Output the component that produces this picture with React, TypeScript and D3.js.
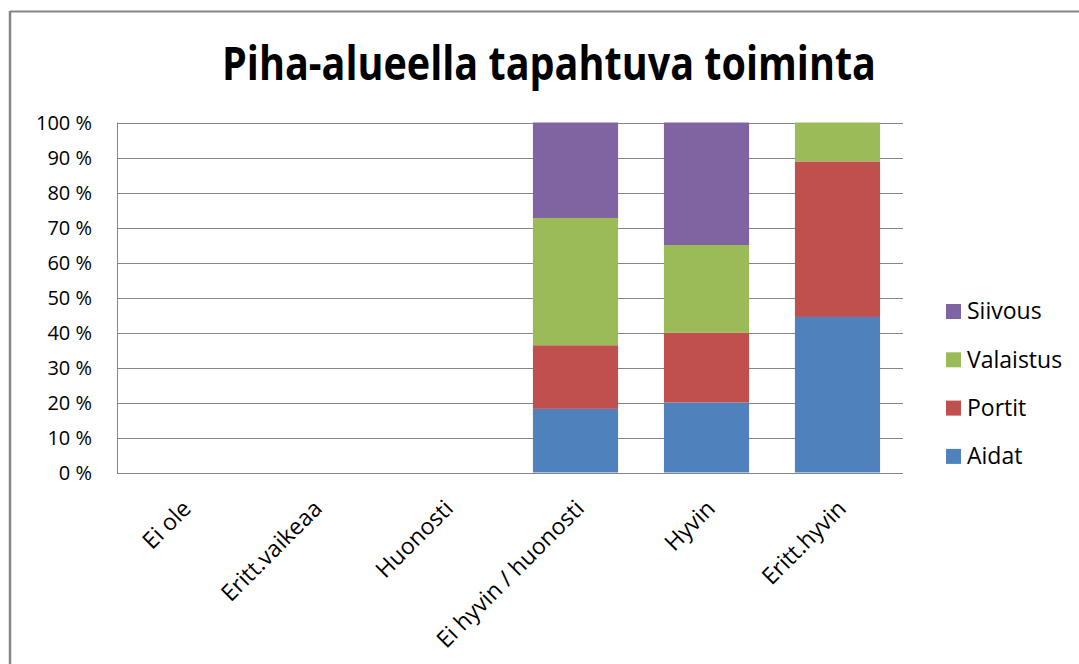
import React from "react";
import * as d3 from "d3";

const categories = ["Ei ole", "Eritt.vaikeaa", "Huonosti", "Ei hyvin / huonosti", "Hyvin", "Eritt.hyvin"];
const seriesNames = ["Aidat", "Portit", "Valaistus", "Siivous"];
const aidat = [0, 0, 0, 18.18, 20, 44.44];
const portit = [0, 0, 0, 18.18, 20, 44.44];
const valaistus = [0, 0, 0, 36.36, 25, 11.12];
const siivous = [0, 0, 0, 27.28, 35, 0];
const seriesColors = ["#4F81BD", "#C0504D", "#9BBB59", "#8064A2"];
const yTicks = [0, 10, 20, 30, 40, 50, 60, 70, 80, 90, 100];

const W = 1079;
const H = 664;
const plot = { left: 117, right: 903, top: 122.5, bottom: 472.5 };
const FONT = "'Open Sans', 'Noto Sans', sans-serif";

export default function App() {
  const x = d3
    .scaleBand<string>()
    .domain(categories)
    .range([plot.left, plot.right])
    .paddingInner(0.35)
    .paddingOuter(0.175);
  const y = d3.scaleLinear().domain([0, 100]).range([plot.bottom, plot.top]);

  const table = categories.map((c, i) => ({
    cat: c,
    Aidat: aidat[i],
    Portit: portit[i],
    Valaistus: valaistus[i],
    Siivous: siivous[i],
  }));
  const stacked = d3.stack<any>().keys(seriesNames)(table);

  const legendOrder = [...seriesNames].reverse();

  return (
    <svg
      width={W}
      height={H}
      style={{ position: "absolute", left: 0, top: 0, background: "#fff" }}
    >
      <rect x={0} y={0} width={W} height={H} fill="#fff" />
      {/* chart border */}
      <line x1={10} x2={W} y1={11.5} y2={11.5} stroke="#868686" strokeWidth={2} />
      <line x1={10} x2={10} y1={11} y2={H} stroke="#868686" strokeWidth={2.5} />

      {/* title */}
      <text
        x={549}
        y={80}
        textAnchor="middle"
        fontFamily={FONT}
        fontWeight="bold"
        fontSize={46}
        fill="#000"
        textLength={654}
        lengthAdjust="spacingAndGlyphs"
      >
        Piha-alueella tapahtuva toiminta
      </text>

      {/* gridlines */}
      {yTicks.map((t) => (
        <line
          key={t}
          x1={plot.left}
          x2={plot.right}
          y1={Math.round(y(t)) + 0.5}
          y2={Math.round(y(t)) + 0.5}
          stroke="#868686"
          strokeWidth={1}
        />
      ))}

      {/* bars */}
      {stacked.map((s, si) =>
        s.map((d, i) =>
          d[1] - d[0] > 0 ? (
            <rect
              key={`${si}-${i}`}
              x={x(categories[i])!}
              width={x.bandwidth()}
              y={y(d[1])}
              height={y(d[0]) - y(d[1])}
              fill={seriesColors[si]}
            />
          ) : null
        )
      )}

      {/* axes */}
      <line x1={plot.left + 0.5} x2={plot.left + 0.5} y1={plot.top} y2={plot.bottom + 0.5} stroke="#868686" />
      <line x1={plot.left} x2={plot.right} y1={Math.round(plot.bottom) + 0.5} y2={Math.round(plot.bottom) + 0.5} stroke="#868686" />

      {/* y tick labels */}
      {yTicks.map((t) => (
        <text
          key={t}
          x={92}
          y={y(t)}
          dy="0.36em"
          textAnchor="end"
          fontFamily={FONT}
          fontSize={20}
          fill="#000"
        >
          {`${t} %`}
        </text>
      ))}

      {/* x labels */}
      {categories.map((c) => {
        const cx = x(c)! + x.bandwidth() / 2 + 10;
        const cy = 510;
        return (
          <text
            key={c}
            transform={`translate(${cx},${cy}) rotate(-45)`}
            textAnchor="end"
            fontFamily={FONT}
            fontSize={23}
            fill="#000"
          >
            {c}
          </text>
        );
      })}

      {/* legend */}
      {legendOrder.map((name, i) => {
        const si = seriesNames.indexOf(name);
        const cy = 311 + i * 48.3;
        return (
          <g key={name}>
            <rect x={946} y={cy - 7} width={15} height={15} fill={seriesColors[si]} />
            <text x={967} y={cy} dy="0.36em" fontFamily={FONT} fontSize={23} fill="#000">
              {name}
            </text>
          </g>
        );
      })}
    </svg>
  );
}
